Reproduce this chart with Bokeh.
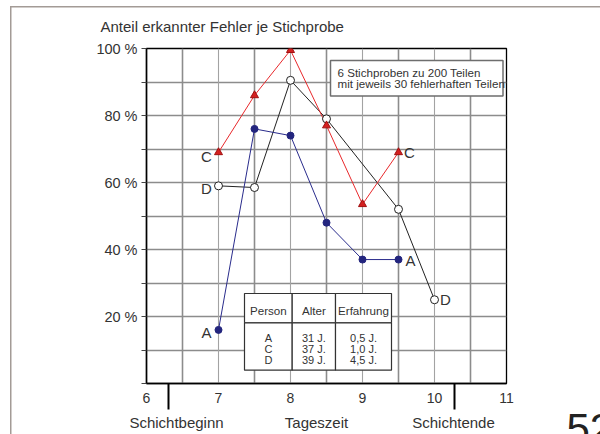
from bokeh.plotting import figure
from bokeh.models import FixedTicker, Label, Grid, LinearAxis, Title
from bokeh.embed import file_html
from bokeh.resources import INLINE

# ---- data ----
hours_A = [7, 7.5, 8, 8.5, 9, 9.5]
pct_A = [16, 76, 74, 48, 37, 37]
hours_C = [7, 7.5, 8, 8.5, 9, 9.5]
pct_C = [69, 86, 99.5, 77, 53.5, 69]
hours_D = [7, 7.5, 8, 8.5, 9.5, 10]
pct_D = [59, 58.5, 90.5, 79, 52, 25]

x_ticks = [6, 7, 8, 9, 10, 11]
y_ticks = [0, 20, 40, 60, 80, 100]
y_minor = [10, 30, 50, 70, 90]
shift_marks = [6.3, 10.28]

title_text = "Anteil erkannter Fehler je Stichprobe"
note_lines = ["6 Stichproben zu 200 Teilen", "mit jeweils 30 fehlerhaften Teilen"]
table_header = ["Person", "Alter", "Erfahrung"]
persons = ["A", "C", "D"]
ages = ["31 J.", "37 J.", "39 J."]
experience = ["0,5 J.", "1,0 J.", "4,5 J."]
captions = ["Schichtbeginn", "Tageszeit", "Schichtende"]
caption_pos = [6.417, 8.361, 10.264]
page_number = "52"

FONT = "Liberation Sans"
TXT = "#333333"

# page-pixel -> data helpers (frame: x 6..11 over 360px, y 0..100 over 335px)
FX0, FY0 = 146.0, 383.0
def dx(px):
    return 6 + (px - FX0) / 72.0
def dy(py):
    return (FY0 - py) / 3.35

p = figure(width=600, height=434, x_range=(6, 11), y_range=(0, 100),
           output_backend="svg", toolbar_location=None,
           min_border_left=146, min_border_right=94,
           min_border_top=48, min_border_bottom=51)
p.background_fill_color = "white"
p.border_fill_color = None
p.outline_line_color = "black"
p.outline_line_width = 1.3
p.styles = {
    "background-color": "white",
    "background-image": "linear-gradient(#a39b96,#a39b96), linear-gradient(#a39b96,#a39b96)",
    "background-size": "1.5px 100%, 100% 1.5px",
    "background-position": "9.5px 6px, 9.5px 6px",
    "background-repeat": "no-repeat",
}

# title (top left, outside the frame)
p.title.text = title_text
p.title.align = "left"
p.title.offset = -46
p.title.text_font = FONT
p.title.text_font_style = "normal"
p.title.text_font_size = "15px"
p.title.text_color = TXT
p.title.standoff = 28

# main x axis
p.xaxis.ticker = FixedTicker(ticks=x_ticks)
p.xaxis.major_tick_out = 0
p.xaxis.major_tick_in = 0
p.xaxis.minor_tick_out = 0
p.xaxis.minor_tick_in = 0
p.xaxis.major_label_standoff = 9
p.xaxis.axis_line_color = "black"
p.xaxis.axis_line_width = 1.5
p.xaxis.major_label_text_font = FONT
p.xaxis.major_label_text_font_size = "14px"
p.xaxis.major_label_text_color = TXT

# caption axis with shift markers (minor ticks pointing up)
cap_axis = LinearAxis(ticker=FixedTicker(ticks=caption_pos, minor_ticks=shift_marks))
cap_axis.major_label_overrides = {v: t for v, t in zip(caption_pos, captions)}
cap_axis.axis_line_color = None
cap_axis.major_tick_out = 0
cap_axis.major_tick_in = 0
cap_axis.minor_tick_in = 22
cap_axis.minor_tick_out = 4
cap_axis.minor_tick_line_color = "black"
cap_axis.minor_tick_line_width = 2
cap_axis.major_label_standoff = 4
cap_axis.major_label_text_font = FONT
cap_axis.major_label_text_font_size = "15px"
cap_axis.major_label_text_color = TXT
p.add_layout(cap_axis, "below")

# page number, cut at the bottom edge
pn = Title(text=page_number, align="left", offset=420, text_font=FONT,
           text_font_style="normal", text_font_size="42px", text_color="#222222",
           standoff=-40, vertical_align="top")
p.add_layout(pn, "below")

# y axis
p.yaxis.ticker = FixedTicker(ticks=y_ticks, minor_ticks=y_minor)
p.yaxis.major_label_overrides = {t: ("" if t == 0 else f"{t} %") for t in y_ticks}
p.yaxis.major_tick_out = 5
p.yaxis.major_tick_in = 0
p.yaxis.minor_tick_out = 5
p.yaxis.minor_tick_in = 0
p.yaxis.major_tick_line_width = 1.2
p.yaxis.minor_tick_line_width = 1.2
p.yaxis.major_tick_line_color = "#444"
p.yaxis.minor_tick_line_color = "#444"
p.yaxis.major_label_standoff = 4
p.yaxis.axis_line_color = "black"
p.yaxis.axis_line_width = 1.5
p.yaxis.major_label_text_font = FONT
p.yaxis.major_label_text_font_size = "14.5px"
p.yaxis.major_label_text_color = TXT

# grids
p.xgrid.ticker = FixedTicker(ticks=[6.5, 7.5, 8.5, 9.5, 10.5])
p.xgrid.grid_line_color = "#8c8c8c"
p.xgrid.grid_line_width = 1.6
p.ygrid.ticker = FixedTicker(ticks=[10, 20, 30, 40, 50, 60, 70, 80, 90])
p.ygrid.grid_line_color = "#8c8c8c"
p.ygrid.grid_line_width = 1.6
p.add_layout(Grid(dimension=0, ticker=FixedTicker(ticks=[7, 8, 9, 10]),
                  grid_line_color="#a3a3a3", grid_line_width=1.1))

# note box
p.quad(left=dx(330), right=dx(502.5), top=dy(60), bottom=dy(95.5),
       fill_color="white", line_color="#6e6e6e", line_width=1.5)
for i, ln in enumerate(note_lines):
    p.add_layout(Label(x=dx(337), y=dy(71.5 + i * 11.5), text=ln, text_font=FONT,
                       text_font_size="11.6px", text_color=TXT,
                       text_baseline="middle", text_align="left"))

# table
col_edges = [dx(244), dx(291.7), dx(335), dx(391)]
t_top, t_mid, t_bot = dy(293), dy(322.3), dy(369.7)
for i in range(3):
    p.quad(left=col_edges[i], right=col_edges[i + 1], top=t_top, bottom=t_mid,
           fill_color="white", line_color="#333", line_width=1.2)
    p.quad(left=col_edges[i], right=col_edges[i + 1], top=t_mid, bottom=t_bot,
           fill_color="white", line_color="#333", line_width=1.2)
columns = [persons, ages, experience]
for i in range(3):
    cx = (col_edges[i] + col_edges[i + 1]) / 2
    p.add_layout(Label(x=cx, y=dy(309.5), text=table_header[i], text_font=FONT,
                       text_font_size="11.6px", text_color=TXT,
                       text_align="center", text_baseline="middle"))
    for j, val in enumerate(columns[i]):
        p.add_layout(Label(x=cx, y=dy(337 + j * 11), text=val, text_font=FONT,
                           text_font_size="11px", text_color=TXT,
                           text_align="center", text_baseline="middle"))

# series
p.line(hours_D, pct_D, line_color="#222222", line_width=1)
p.line(hours_C, pct_C, line_color="#e8282b", line_width=1)
p.line(hours_A, pct_A, line_color="#2a2c8c", line_width=1)
p.scatter(hours_D, pct_D, marker="circle", size=8, fill_color="white",
          line_color="#222222", line_width=1)
p.scatter(hours_C, pct_C, marker="triangle", size=8, fill_color="#d42020",
          line_color="#a01010", line_width=1)
p.scatter(hours_A, pct_A, marker="circle", size=7, fill_color="#23257e",
          line_color="#23257e")

# series labels
def lab(x, y, t):
    p.add_layout(Label(x=x, y=y, text=t, text_font=FONT, text_font_size="15px",
                       text_color=TXT, text_align="center", text_baseline="middle"))
lab(hours_C[0] - 0.167, pct_C[0] - 1.2, "C")
lab(hours_D[0] - 0.167, pct_D[0] - 0.7, "D")
lab(hours_A[0] - 0.167, pct_A[0] - 0.8, "A")
lab(hours_C[-1] + 0.153, pct_C[-1], "C")
lab(hours_A[-1] + 0.167, pct_A[-1] - 0.3, "A")
lab(hours_D[-1] + 0.153, pct_D[-1], "D")

open("out.html", "w").write(file_html(p, INLINE))
